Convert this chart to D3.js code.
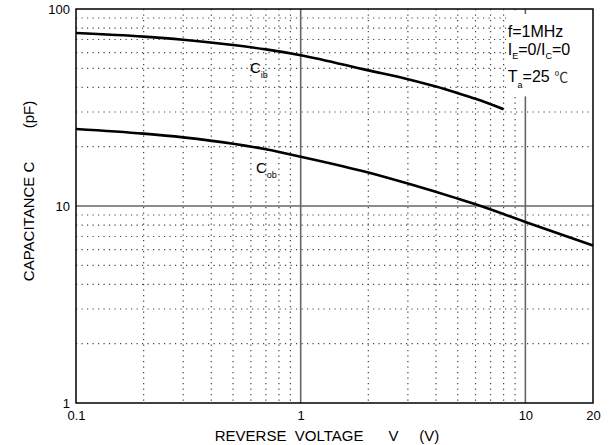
<!DOCTYPE html>
<html>
<head>
<meta charset="utf-8">
<script src="https://cdn.jsdelivr.net/npm/d3@7"></script>
<style>
  body { margin: 0; background: #fff; }
  svg { font-family: "Liberation Sans", Arial, sans-serif; }
  .grid-minor { stroke: #444; stroke-width: 1.2; stroke-dasharray: 1.2,4.3; }
  .grid-major { stroke: #666; stroke-width: 1.6; }
  .curve { fill: none; stroke: #000; stroke-width: 2.6; }
</style>
</head>
<body>
<svg class="cap-chart"></svg>
<script>
// Reverse voltage (V) and capacitance (pF)
var cibVolt = [0.1, 0.2, 0.3, 0.5, 0.7, 1, 2, 3, 4, 5, 6, 8];
var cibCap  = [75.5, 72.4, 69.8, 65.6, 62.4, 58.3, 48.8, 44.0, 40.4, 37.4, 35.0, 31.0];
var cobVolt = [0.1, 0.2, 0.3, 0.5, 0.7, 1, 2, 3, 5, 6, 10, 20];
var cobCap  = [24.6, 23.3, 22.3, 20.7, 19.4, 17.8, 14.8, 13.0, 10.9, 10.2, 8.3, 6.3];

var xTicks = [0.1, 1, 10, 20];
var yTicks = [1, 10, 100];
var xMinor = [0.2, 0.3, 0.4, 0.5, 0.6, 0.7, 0.8, 0.9, 2, 3, 4, 5, 6, 7, 8, 9];
var yMinor = [2, 3, 4, 5, 6, 7, 8, 9, 20, 30, 40, 50, 60, 70, 80, 90];
var xMajor = [1, 10];
var yMajor = [10];

var margin = {top: 9, right: 16, bottom: 42, left: 76};
var width = 609 - margin.left - margin.right;
var height = 445 - margin.top - margin.bottom;

var x = d3.scaleLog().domain([0.1, 20]).range([0, width]);
var y = d3.scaleLog().domain([1, 100]).range([height, 0]);

var svg = d3.select(".cap-chart")
  .attr("width", 609)
  .attr("height", 445);

var chart = svg.append("g")
  .attr("transform", "translate(" + margin.left + "," + margin.top + ")");

// dotted minor grid
chart.selectAll(".vminor").data(xMinor).enter().append("line")
  .attr("class", "grid-minor")
  .attr("x1", function(d) { return x(d); })
  .attr("x2", function(d) { return x(d); })
  .attr("y1", 0).attr("y2", height);

chart.selectAll(".hminor").data(yMinor).enter().append("line")
  .attr("class", "grid-minor")
  .attr("x1", 0).attr("x2", width)
  .attr("y1", function(d) { return y(d); })
  .attr("y2", function(d) { return y(d); });

// solid decade lines
chart.selectAll(".vmajor").data(xMajor).enter().append("line")
  .attr("class", "grid-major")
  .attr("x1", function(d) { return x(d); })
  .attr("x2", function(d) { return x(d); })
  .attr("y1", 0).attr("y2", height);

chart.selectAll(".hmajor").data(yMajor).enter().append("line")
  .attr("class", "grid-major")
  .attr("x1", 0).attr("x2", width)
  .attr("y1", function(d) { return y(d); })
  .attr("y2", function(d) { return y(d); });

var line = d3.line()
  .x(function(d) { return x(d[0]); })
  .y(function(d) { return y(d[1]); })
  .curve(d3.curveMonotoneX);

chart.append("path")
  .datum(d3.zip(cibVolt, cibCap))
  .attr("class", "curve")
  .attr("d", line);

chart.append("path")
  .datum(d3.zip(cobVolt, cobCap))
  .attr("class", "curve")
  .attr("d", line);

// curve labels
var ib = chart.append("text")
  .attr("x", x(0.595)).attr("y", y(47.3))
  .style("font-size", "15px");
ib.append("tspan").text("C");
ib.append("tspan").attr("dy", 5).style("font-size", "9px").text("ib");

var ob = chart.append("text")
  .attr("x", x(0.632)).attr("y", y(14.7))
  .style("font-size", "15px");
ob.append("tspan").text("C");
ob.append("tspan").attr("dy", 5).style("font-size", "9px").text("ob");

// conditions box
chart.append("rect")
  .attr("x", x(8.2)).attr("y", 5)
  .attr("width", x(19.4) - x(8.2))
  .attr("height", y(36) - 5)
  .attr("fill", "#fff");

var legendX = x(8.35);
chart.append("text")
  .attr("x", legendX).attr("y", 28)
  .style("font-size", "16px")
  .text("f=1MHz");

var cond = chart.append("text")
  .attr("x", legendX).attr("y", 46)
  .style("font-size", "16px");
cond.append("tspan").text("I");
cond.append("tspan").attr("dy", 4).style("font-size", "9px").text("E");
cond.append("tspan").attr("dy", -4).text("=0/I");
cond.append("tspan").attr("dy", 4).style("font-size", "9px").text("C");
cond.append("tspan").attr("dy", -4).text("=0");

var temp = chart.append("text")
  .attr("x", legendX).attr("y", 73)
  .style("font-size", "16px");
temp.append("tspan").text("T");
temp.append("tspan").attr("dy", 6).style("font-size", "9px").text("a");
temp.append("tspan").attr("dy", -6).text("=25 ");
temp.append("tspan").style("font-family", "'Noto Sans CJK SC'").style("font-size", "14px").style("fill", "#333").text("\u2103");

// frame
chart.append("rect")
  .attr("x", 0).attr("y", 0)
  .attr("width", width).attr("height", height)
  .attr("fill", "none")
  .attr("stroke", "#000")
  .attr("stroke-width", 1.5);

// axes (labels only)
var xAxis = chart.append("g")
  .attr("transform", "translate(0," + height + ")")
  .call(d3.axisBottom(x).tickValues(xTicks).tickSize(0).tickPadding(8)
    .tickFormat(function(d) { return String(d); }));
xAxis.select(".domain").remove();
xAxis.selectAll("text").style("font-size", "13px").style("font-family", "'Liberation Sans', Arial, sans-serif");

var yAxis = chart.append("g")
  .call(d3.axisLeft(y).tickValues(yTicks).tickSize(0).tickPadding(6)
    .tickFormat(function(d) { return String(d); }));
yAxis.select(".domain").remove();
yAxis.selectAll("text").style("font-size", "13px").style("font-family", "'Liberation Sans', Arial, sans-serif");

chart.append("text")
  .attr("x", 327 - margin.left)
  .attr("y", height + 38)
  .attr("text-anchor", "middle")
  .style("font-size", "15px")
  .style("white-space", "pre")
  .text("REVERSE  VOLTAGE      V     (V)");

chart.append("text")
  .attr("transform", "rotate(-90)")
  .attr("x", -(191 - margin.top))
  .attr("y", 34 - margin.left)
  .attr("text-anchor", "middle")
  .style("font-size", "15px")
  .style("white-space", "pre")
  .text("CAPACITANCE C        (pF)");
</script>
</body>
</html>
